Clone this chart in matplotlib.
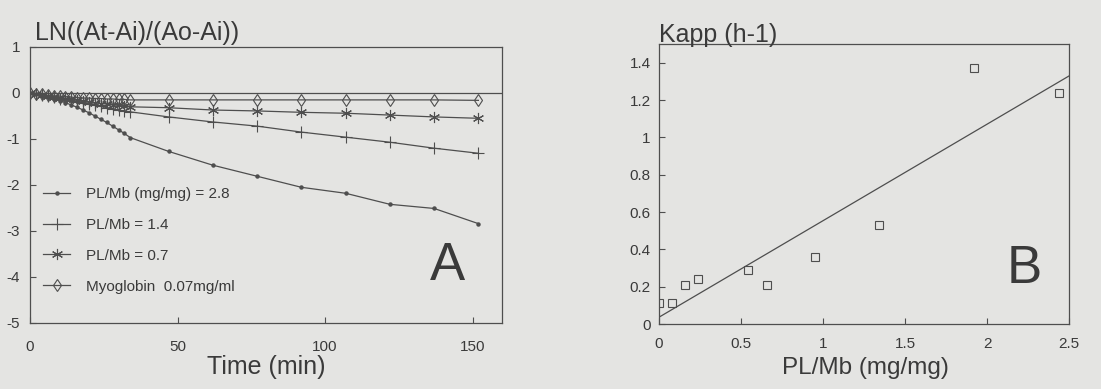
import numpy as np
import matplotlib.pyplot as plt

plt.rcParams['font.family'] = ['Liberation Sans', 'DejaVu Sans']

# panel A: time (min) and LN((At-Ai)/(Ao-Ai)) for each series
time_dense = [0, 2, 4, 6, 8, 10, 12, 14, 16, 18, 20, 22, 24, 26, 28, 30, 32, 34]
time_late = [47, 62, 77, 92, 107, 122, 137, 152]
time_a = time_dense + time_late

ln_28 = [0, -0.03, -0.06, -0.09, -0.13, -0.17, -0.21, -0.26, -0.31, -0.37, -0.43, -0.50,
         -0.57, -0.64, -0.72, -0.80, -0.88, -0.97,
         -1.27, -1.57, -1.81, -2.05, -2.18, -2.42, -2.51, -2.84]
ln_14 = [0, -0.02, -0.04, -0.07, -0.09, -0.12, -0.14, -0.17, -0.19, -0.22, -0.24, -0.27,
         -0.29, -0.32, -0.34, -0.37, -0.39, -0.41,
         -0.52, -0.63, -0.72, -0.85, -0.96, -1.07, -1.20, -1.31]
ln_07 = [0, -0.02, -0.04, -0.06, -0.08, -0.10, -0.12, -0.14, -0.16, -0.18, -0.20, -0.21,
         -0.23, -0.24, -0.26, -0.27, -0.29, -0.30,
         -0.32, -0.37, -0.39, -0.42, -0.44, -0.48, -0.52, -0.55]
ln_mb = [0, -0.02, -0.03, -0.05, -0.06, -0.07, -0.08, -0.09, -0.10, -0.11, -0.11, -0.12,
         -0.12, -0.13, -0.13, -0.14, -0.14, -0.15,
         -0.15, -0.15, -0.15, -0.15, -0.15, -0.15, -0.15, -0.16]
labels_a = ['PL/Mb (mg/mg) = 2.8', 'PL/Mb = 1.4', 'PL/Mb = 0.7', 'Myoglobin  0.07mg/ml']

# panel B: Kapp vs PL/Mb ratio
plmb = [0.0, 0.08, 0.16, 0.24, 0.54, 0.66, 0.95, 1.34, 1.92, 2.44]
kapp = [0.11, 0.11, 0.21, 0.24, 0.29, 0.21, 0.36, 0.53, 1.37, 1.24]

bg = '#e4e4e2'
ink = '#3a3a3a'
lc = '#4e4e4e'

fig = plt.figure(figsize=(11.01, 3.89), dpi=100, facecolor=bg)
axA = fig.add_axes([30/1101, 1 - 323/389, 472/1101, 276/389])
axB = fig.add_axes([659/1101, 1 - 324/389, 410/1101, 280/389])

for ax in (axA, axB):
    ax.set_facecolor(bg)
    for s in ax.spines.values():
        s.set_color(lc)
        s.set_linewidth(0.9)
    ax.tick_params(direction='in', length=4, width=0.8, color=lc,
                   labelsize=11, labelcolor=ink)

# ---- panel A
axA.axhline(0, color=lc, lw=0.9)
styles = [dict(marker='o', ms=2.2),
          dict(marker='+', ms=8, mew=0.8),
          dict(marker=(6, 2, 0), ms=8, mew=0.8),
          dict(marker='d', ms=6, mfc='none', mew=0.8)]
for vals, lab, st in zip([ln_28, ln_14, ln_07, ln_mb], labels_a, styles):
    axA.plot(time_a, vals, color=lc, lw=0.9, label=lab, **st)

axA.set_xlim(0, 160)
axA.set_ylim(-5, 1)
axA.set_xticks([0, 50, 100, 150])
axA.set_yticks([-5, -4, -3, -2, -1, 0, 1])
axA.set_yticklabels(['-5', '-4', '-3', '-2', '-1', '0', '1'])
axA.tick_params(axis='x', pad=12)
axA.tick_params(axis='y', pad=7)
axA.text(0.01, 1.025, 'LN((At-Ai)/(Ao-Ai))', transform=axA.transAxes,
         fontsize=18, color=ink, va='baseline', ha='left')
axA.text(0.885, 0.205, 'A', transform=axA.transAxes, fontsize=38,
         color=ink, ha='center', va='center')
leg = axA.legend(loc='upper left', bbox_to_anchor=(0.0275, 0.492), frameon=False,
                 fontsize=11, handlelength=1.8, handletextpad=1.0,
                 labelspacing=1.1, borderpad=0, borderaxespad=0)
for t in leg.get_texts():
    t.set_color(ink)

# ---- panel B
axB.plot(plmb, kapp, linestyle='none', marker='s', ms=6, mfc='none',
         mec=lc, mew=0.8)
slope, icpt = np.polyfit(plmb, kapp, 1)
xfit = np.array([0, 2.5])
axB.plot(xfit, icpt + slope * xfit, color=lc, lw=0.9)
axB.set_xlim(0, 2.5)
axB.set_ylim(0, 1.5)
axB.set_xticks([0, 0.5, 1, 1.5, 2, 2.5])
axB.set_xticklabels(['0', '0.5', '1', '1.5', '2', '2.5'])
axB.set_yticks([0, 0.2, 0.4, 0.6, 0.8, 1, 1.2, 1.4])
axB.set_yticklabels(['0', '0.2', '0.4', '0.6', '0.8', '1', '1.2', '1.4'])
axB.tick_params(axis='x', pad=9)
axB.tick_params(axis='y', pad=6)
axB.text(0.0, 1.007, 'Kapp (h-1)', transform=axB.transAxes,
         fontsize=18, color=ink, va='baseline', ha='left')
axB.text(0.89, 0.196, 'B', transform=axB.transAxes, fontsize=38,
         color=ink, ha='center', va='center')

fig.text(266/1101, 1 - 367/389, 'Time (min)', fontsize=18, color=ink,
         ha='center', va='center')
fig.text(865/1101, 1 - 368/389, 'PL/Mb (mg/mg)', fontsize=17.5, color=ink,
         ha='center', va='center')

fig.savefig('out.png', dpi=100, facecolor=bg)
